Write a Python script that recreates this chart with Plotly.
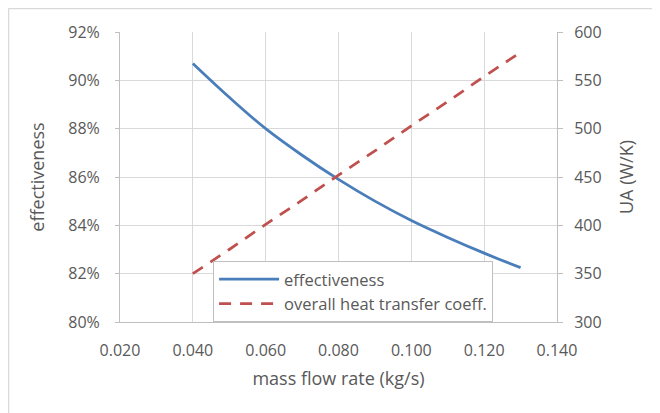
import plotly.graph_objects as go

mass_flow = [0.04, 0.05, 0.06, 0.07, 0.08, 0.09, 0.10, 0.11, 0.12, 0.13]
effectiveness = [0.907, 0.893, 0.880, 0.869, 0.859, 0.850, 0.842, 0.835, 0.8285, 0.8225]
ua_values = [350, 375, 401, 426, 452, 477, 503, 528, 554, 579]

x_ticks = [0.02, 0.04, 0.06, 0.08, 0.10, 0.12, 0.14]
left_ticks = [0.80, 0.82, 0.84, 0.86, 0.88, 0.90, 0.92]
right_ticks = [300, 350, 400, 450, 500, 550, 600]

font = "Open Sans, Liberation Sans, sans-serif"
grey = "#595959"
grid = "#d9d9d9"
axis_line = "#bfbfbf"

fig = go.Figure()
fig.add_trace(go.Scatter(
    x=mass_flow, y=effectiveness, mode="lines", name="effectiveness",
    line=dict(color="#4a7ebb", width=2.75, shape="spline"), yaxis="y"))
fig.add_trace(go.Scatter(
    x=mass_flow, y=ua_values, mode="lines", name="overall heat transfer coeff.",
    line=dict(color="#c0504d", width=2.75, dash="12px,9px"), yaxis="y2"))

fig.update_layout(
    width=652, height=405,
    margin=dict(l=112, r=103, t=24, b=91, autoexpand=False),
    paper_bgcolor="white", plot_bgcolor="white",
    font=dict(family=font, color=grey, size=16),
    showlegend=True,
    legend=dict(x=0.213, y=0.0, xanchor="left", yanchor="bottom",
                bgcolor="white", bordercolor="#bfbfbf", borderwidth=1,
                font=dict(size=16.5, color=grey), tracegroupgap=2, itemwidth=60),
    xaxis=dict(range=[0.02, 0.14], tickvals=x_ticks,
               ticktext=[f"{v:.3f}" for v in x_ticks],
               showgrid=True, gridcolor=grid, gridwidth=1,
               showline=True, linecolor=axis_line, linewidth=1,
               zeroline=False, ticks="", ticklabelstandoff=14,
               title=dict(text="mass flow rate (kg/s)", font=dict(size=18, color=grey), standoff=12),
               tickfont=dict(size=16, color=grey)),
    yaxis=dict(range=[0.80, 0.92], tickvals=left_ticks,
               ticktext=[f"{round(v*100)}%" for v in left_ticks],
               showgrid=True, gridcolor=grid, gridwidth=1,
               showline=True, linecolor=axis_line, linewidth=1,
               zeroline=False, ticks="outside", ticklen=4, tickcolor=axis_line,
               ticklabelstandoff=12,
               title=dict(text="effectiveness", font=dict(size=18, color=grey), standoff=18),
               tickfont=dict(size=16, color=grey)),
    yaxis2=dict(range=[300, 600], tickvals=right_ticks, overlaying="y", side="right",
                showgrid=False, showline=True, linecolor=axis_line, linewidth=1,
                zeroline=False, ticks="outside", ticklen=5, tickcolor=axis_line,
                ticklabelstandoff=8,
                title=dict(text="UA (W/K)", font=dict(size=18, color=grey), standoff=19),
                tickfont=dict(size=16, color=grey)),
    shapes=[
        dict(type="line", xref="paper", yref="paper", x0=-0.2551, x1=1.24, y0=1.081, y1=1.081,
             line=dict(color="#d9d9d9", width=1.5), layer="below"),
        dict(type="line", xref="paper", yref="paper", x0=-0.2551, x1=-0.2551, y0=-0.32, y1=1.081,
             line=dict(color="#d9d9d9", width=1.5), layer="below"),
    ],
)

fig.write_html("out.html")
